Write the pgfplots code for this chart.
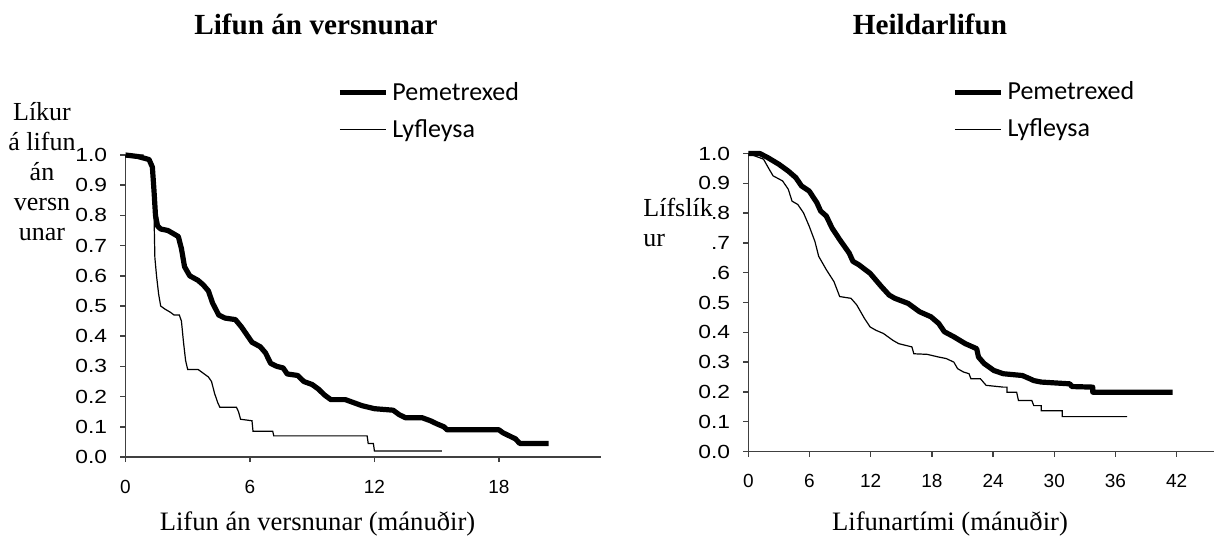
\documentclass[border=0pt]{standalone}
\usepackage{fontspec}
\setmainfont{Liberation Serif}
\newfontfamily\tickfont{Liberation Sans}
\newfontfamily\legfont{Carlito}
\usepackage{pgfplots}
\pgfplotsset{compat=1.18}

\pgfplotsset{
  kmstyle/.style={
    scale only axis,
    axis x line=bottom, axis y line=left,
    axis line style={-, line width=0.75pt, color=black!75},
    tick style={line width=0.75pt, color=black!75},
    tick align=outside,
    major tick length=2.5pt,
    ymin=0, ymax=1,
    ytick={0,0.1,0.2,0.3,0.4,0.5,0.6,0.7,0.8,0.9,1.0},
    /pgf/number format/assume math mode=true,
    xticklabel style={font=\tickfont\fontsize{9.5}{10}\selectfont, yshift=-5.5pt},
    yticklabel style={font=\tickfont\fontsize{9.5}{10}\selectfont, xscale=1.2, xshift=-2pt},
    clip=false,
    legend cell align=left,
    legend style={draw=none, fill=none, inner sep=0pt, row sep=4pt,
      font=\legfont\fontsize{13}{15}\selectfont, anchor=north west},
    legend image code/.code={\draw[#1] (0pt,0pt) -- (23pt,0pt);},
  },
  pem/.style={black, line width=2.6pt, line join=round},
  lyf/.style={black, line width=0.6pt},
}

\begin{document}
\begin{tikzpicture}
\path[use as bounding box] (0,0) rectangle (607.5pt,-270pt);

% ---------- Left panel ----------
\begin{axis}[kmstyle,
  at={(62.7pt,-228.5pt)}, anchor=south west,
  width=237.6pt, height=151pt,
  xmin=0, xmax=22.9,
  xtick={0,6,12,18}, xticklabels={0,6,12,18},
  yticklabels={0.0,0.1,0.2,0.3,0.4,0.5,0.6,0.7,0.8,0.9,1.0},
  legend style={at={(0.445,1.256)}},
]
\addplot[pem] coordinates {
(0,1.0) (0.6,0.995) (1.14,0.985) (1.3,0.96) (1.38,0.88) (1.45,0.80) (1.55,0.765)
(1.7,0.755) (2.05,0.75) (2.3,0.74) (2.55,0.73) (2.7,0.69) (2.85,0.63) (3.1,0.60)
(3.5,0.585) (3.75,0.57) (4.0,0.55) (4.2,0.51) (4.5,0.47) (4.8,0.46) (5.3,0.455)
(5.6,0.43) (5.9,0.40) (6.1,0.38) (6.5,0.365) (6.75,0.345) (7.0,0.31) (7.3,0.30)
(7.6,0.295) (7.8,0.275) (8.3,0.27) (8.6,0.25) (9.0,0.24) (9.3,0.225) (9.6,0.205)
(9.9,0.19) (10.6,0.19) (11.0,0.18) (11.4,0.17) (12.0,0.16) (12.9,0.155) (13.2,0.14)
(13.5,0.13) (14.3,0.13) (14.7,0.12) (15.0,0.11) (15.35,0.10) (15.5,0.09) (18.0,0.09)
(18.2,0.08) (18.5,0.07) (18.8,0.06) (19.0,0.045) (20.4,0.045)
};
\addlegendentry{Pemetrexed}
\addplot[lyf] coordinates {
(0,1.0) (0.85,1.0) (0.85,0.99) (1.2,0.985) (1.3,0.95) (1.38,0.80) (1.42,0.66)
(1.5,0.60) (1.6,0.54) (1.7,0.50) (1.9,0.49) (2.15,0.48) (2.35,0.47) (2.6,0.47)
(2.7,0.45) (2.8,0.38) (2.9,0.32) (3.0,0.29) (3.5,0.29) (3.7,0.28) (4.0,0.265)
(4.15,0.25) (4.3,0.21) (4.45,0.18) (4.55,0.165) (5.35,0.165) (5.45,0.15)
(5.55,0.125) (6.1,0.12) (6.15,0.085) (7.1,0.085) (7.15,0.07) (11.65,0.07)
(11.7,0.045) (11.95,0.045) (12.0,0.02) (15.25,0.02)
};
\addlegendentry{Lyfleysa}
\end{axis}

% ---------- Right panel ----------
\begin{axis}[kmstyle,
  at={(374.15pt,-225.75pt)}, anchor=south west,
  width=233.05pt, height=149pt,
  xmin=0, xmax=45.7,
  xtick={0,6,12,18,24,30,36,42}, xticklabels={0,6,12,18,24,30,36,42},
  yticklabels={0.0,0.1,0.2,0.3,0.4,0.5,.6,.7,.8,0.9,1.0},
  legend style={at={(0.437,1.255)}},
]
\addplot[pem] coordinates {
(0,1.0) (1.12,1.0) (1.87,0.987) (2.99,0.964) (3.92,0.941) (4.66,0.919) (5.22,0.891)
(5.97,0.874) (6.72,0.835) (7.09,0.807) (7.65,0.790) (8.21,0.750) (8.96,0.711)
(9.89,0.666) (10.26,0.638) (10.82,0.627) (11.94,0.598) (13.06,0.553) (13.81,0.525)
(14.37,0.514) (15.67,0.497) (16.79,0.469) (17.91,0.452) (18.66,0.430) (19.22,0.402)
(20.15,0.385) (21.27,0.362) (22.39,0.345) (22.57,0.317) (23.13,0.295) (24.07,0.272)
(25.0,0.261) (26.87,0.255) (27.61,0.244) (27.99,0.238) (28.73,0.233) (31.53,0.227)
(31.72,0.218) (33.77,0.216) (33.77,0.199) (41.6,0.199)
};
\addlegendentry{Pemetrexed}
\addplot[lyf] coordinates {
(0,1.0) (1.49,0.981) (2.05,0.947) (2.43,0.925) (3.36,0.908) (3.92,0.880) (4.29,0.840)
(4.85,0.829) (5.41,0.801) (5.97,0.756) (6.53,0.705) (6.90,0.655) (7.65,0.610)
(8.40,0.570) (8.96,0.520) (10.07,0.514) (10.63,0.492) (11.38,0.447) (11.94,0.418)
(12.5,0.407) (13.25,0.396) (14.18,0.373) (14.74,0.362) (16.04,0.351) (16.23,0.328)
(17.54,0.326) (18.66,0.317) (19.4,0.312) (20.15,0.300) (20.52,0.278) (21.08,0.267)
(21.64,0.261) (21.83,0.244) (22.76,0.244) (23.32,0.222) (25.0,0.216) (25.37,0.216)
(25.37,0.199) (26.31,0.199) (26.49,0.171) (27.8,0.171) (27.99,0.154) (28.73,0.154)
(28.73,0.137) (30.78,0.137) (30.78,0.117) (37.13,0.117)
};
\addlegendentry{Lyfleysa}
\end{axis}

% ---------- Titles and labels ----------
\node[font=\bfseries\fontsize{14.6}{16}\selectfont] at (158pt,-12pt) {Lifun án versnunar};
\node[font=\bfseries\fontsize{14.6}{16}\selectfont] at (465pt,-12pt) {Heildarlifun};
\node[font=\fontsize{13.3}{15}\selectfont] at (158.75pt,-262pt) {Lifun án versnunar (mánuðir)};
\node[font=\fontsize{13.3}{15}\selectfont] at (475pt,-262pt) {Lifunartími (mánuðir)};
\node[align=center, font=\fontsize{13}{15}\selectfont, inner sep=0pt] at (21pt,-86pt) {Líkur\\á lifun\\án\\versn\\unar};
\node[align=left, anchor=west, font=\fontsize{13}{15}\selectfont, inner sep=0pt] at (321.5pt,-111pt) {Lífslík\\ur};
\end{tikzpicture}
\end{document}
